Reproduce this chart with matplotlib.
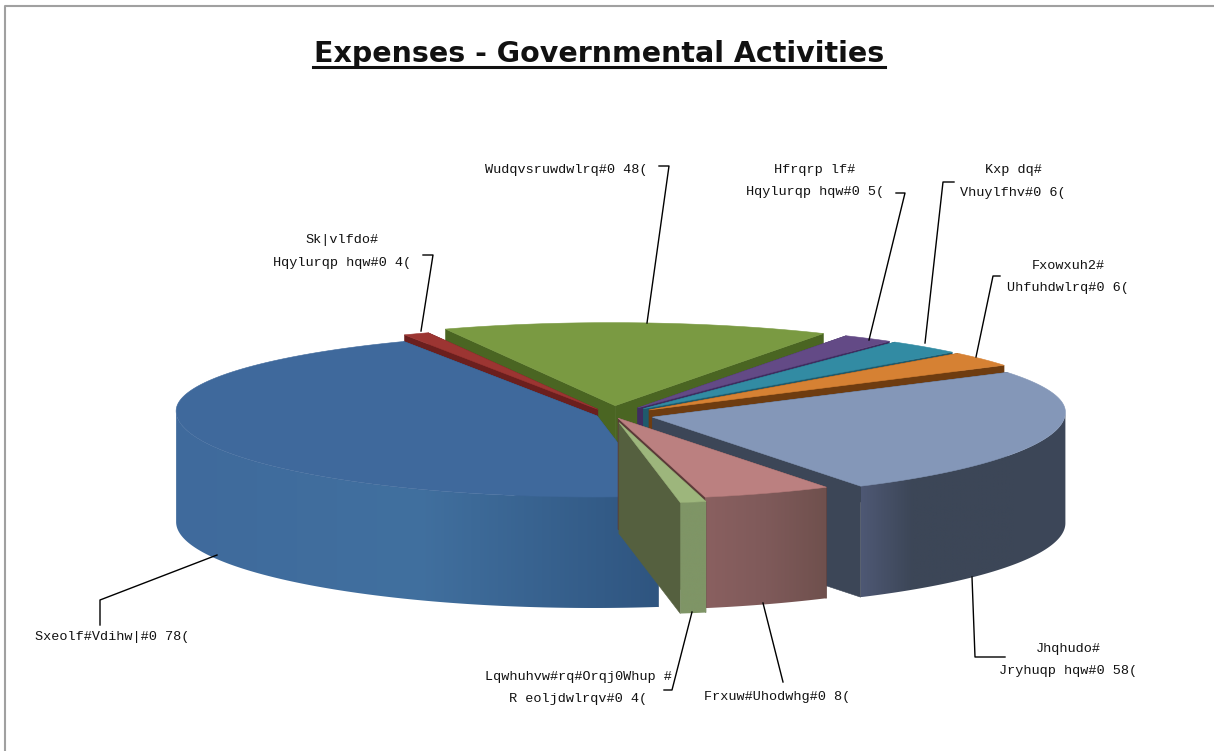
import numpy as np
import matplotlib
matplotlib.use('Agg')
import matplotlib.pyplot as plt
from matplotlib.patches import Polygon
from matplotlib.colors import LinearSegmentedColormap

categories = ['Public Safety', 'Physical Environment', 'Transportation',
              'Economic Environment', 'Human Services', 'Culture/Recreation',
              'General Government', 'Court Related', 'Interest on Long-Term Obligations']
shares = [45, 1, 15, 2, 3, 3, 25, 5, 1]

explode = [0.0375, 0.08, 0.12, 0.11, 0.11, 0.11, 0.10, 0.04, 0.09]
top_colors = ['#3f699c', '#9c3532', '#7a9a42', '#634a86', '#328ba3', '#d68133',
              '#8497b8', '#bb8080', '#9db67c']
face_colors = ['#2f5179', '#6b1f1e', '#4a6522', '#3f2d60', '#1f5a6c', '#6e3c10',
               '#3c4657', '#5b3a38', '#55603f']
wall_stops = [['#3f6a9c', '#41709f', '#2f5580'], ['#7a2826'] * 3, ['#5e7a30'] * 3,
              ['#4a3666'] * 3, ['#26697d'] * 3, ['#9c5c20'] * 3,
              ['#4e5874', '#3c4657', '#3c4657', '#3c4657', '#3d4759'],
              ['#8a6060', '#7f5a5a', '#6f504d'], ['#7f9566'] * 3]

# pie geometry in pixels
cx, cy = 608, 410
rx, ry_back, ry_front = 417, 78, 86
depth = 111
apex_dx, apex_dy = 4, 5
start_angle = -81

fig = plt.figure(figsize=(12.14, 7.51), dpi=100)
ax = fig.add_axes([0, 0, 1, 1])
ax.set_xlim(0, 1214)
ax.set_ylim(751, 0)
ax.set_autoscale_on(False)
ax.axis('off')

# slices run clockwise from the front of the pie
sweeps = np.array(shares) / sum(shares) * 360
ends = start_angle - np.cumsum(sweeps)
starts = ends + sweeps
mids = (starts + ends) / 2

# back slices first so the nearer ones cover them
z = 2
for i in sorted(range(len(shares)), key=lambda k: -np.sin(np.radians(mids[k]))):
    m = np.radians(mids[i])
    mx = cx + rx * explode[i] * np.cos(m)
    my = cy - (ry_back if np.sin(m) > 0 else ry_front) * explode[i] * np.sin(m)
    t = np.radians(np.linspace(starts[i], ends[i], max(int(sweeps[i] * 2), 6)))
    arc_x = mx + rx * np.cos(t)
    arc_y = my - np.where(np.sin(t) > 0, ry_back, ry_front) * np.sin(t)
    ax_x, ax_y = mx + apex_dx, my + apex_dy

    # the two cut faces
    for j in (0, -1):
        ax.add_patch(Polygon([(ax_x, ax_y), (arc_x[j], arc_y[j]),
                              (arc_x[j], arc_y[j] + depth), (ax_x, ax_y + depth)],
                             fc=face_colors[i], ec=face_colors[i], lw=0.4, zorder=z))
        z += 1

    # outer wall, only the part facing the viewer, shaded left to right
    front = np.sin(t) <= 0
    if front.sum() > 1:
        wx, wy = arc_x[front], arc_y[front]
        wall = Polygon(np.vstack([np.column_stack([wx, wy]),
                                  np.column_stack([wx, wy + depth])[::-1]]),
                       fc='none', ec='none', zorder=z)
        ax.add_patch(wall)
        cmap = LinearSegmentedColormap.from_list('wall', wall_stops[i])
        img = ax.imshow(np.linspace(0, 1, 256)[None, :], cmap=cmap, aspect='auto',
                        extent=[wx.min(), wx.max(), wy.max() + depth, wy.min()],
                        zorder=z, interpolation='bilinear')
        img.set_clip_path(wall)
        z += 1

    ax.add_patch(Polygon(np.vstack([[ax_x, ax_y], np.column_stack([arc_x, arc_y])]),
                         fc=top_colors[i], ec=top_colors[i], lw=0.4, zorder=z))
    z += 1

# chart frame, only top and left edges show
ax.plot([5, 5, 1214], [751, 6, 6], color='#a0a0a0', lw=1.5, zorder=1)

# title with a hand drawn underline
ax.text(599, 62, 'Expenses - Governmental Activities', ha='center', va='baseline',
        fontsize=20.5, fontweight='bold', family='DejaVu Sans', color='#111111')
ax.plot([313, 885], [66.5, 66.5], color='#111111', lw=2.2)

labels = [
    ('Sk|vlfdo#\nHqylurqp hqw#0 4(', 342, 251.5),
    ('Wudqvsruwdwlrq#0 48(', 566, 170),
    ('Hfrqrp lf#\nHqylurqp hqw#0 5(', 815, 181),
    ('Kxp dq#\nVhuylfhv#0 6(', 1013, 181.5),
    ('Fxowxuh2#\nUhfuhdwlrq#0 6(', 1068, 277),
    ('Jhqhudo#\nJryhuqp hqw#0 58(', 1068, 660),
    ('Frxuw#Uhodwhg#0 8(', 777, 697),
    ('Lqwhuhvw#rq#Orqj0Whup #\nR eoljdwlrqv#0 4(', 578, 688),
    ('Sxeolf#Vdihw|#0 78(', 112, 637),
]
for text, x, y in labels:
    ax.text(x, y, text, ha='center', va='center', fontsize=9.7, linespacing=2.2,
            family='Liberation Mono', color='#111111', zorder=200)

leaders = [
    [(423, 255), (433, 255), (421, 331)],
    [(659, 166), (669, 166), (647, 323)],
    [(896, 193), (905, 193), (869, 340)],
    [(954, 182), (943, 182), (925, 343)],
    [(1000, 276), (993, 276), (976, 357)],
    [(972, 577), (975, 657), (1005, 657)],
    [(763, 603), (783, 682)],
    [(692, 612), (672, 690), (664, 690)],
    [(100, 625), (100, 600), (217, 555)],
]
for pts in leaders:
    xs, ys = zip(*pts)
    ax.plot(xs, ys, color='black', lw=1, zorder=200)

fig.savefig('out.png', dpi=100)
